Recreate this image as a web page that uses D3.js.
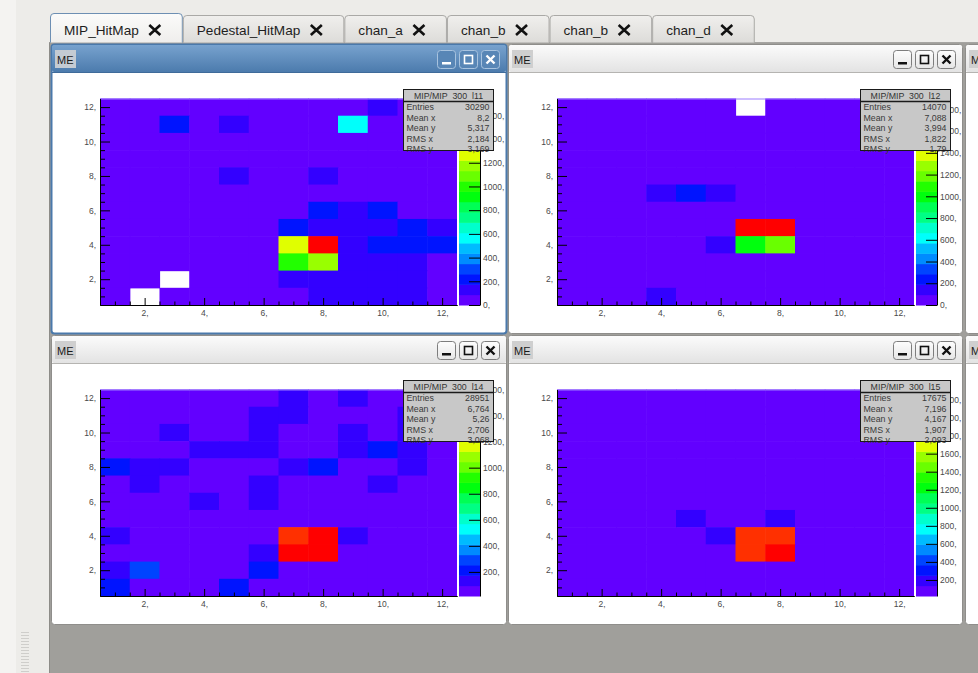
<!DOCTYPE html>
<html>
<head>
<meta charset="utf-8">
<script src="https://cdn.jsdelivr.net/npm/d3@7"></script>
<style>
  body { margin: 0; background: #edece9; overflow: hidden; }
  text { font-family: "Liberation Sans", Arial, sans-serif; }
  .pre { white-space: pre; }
</style>
</head>
<body>
<svg id="app" width="978" height="673"></svg>
<script>
var W = 978, H = 673;

// ROOT "pretty" palette, 20 contour bands
var palette = ["#6200ff", "#3300ff", "#0014ff", "#0044ff", "#008bff", "#00bbff", "#00fffb",
  "#00ffcc", "#00ff85", "#00ff55", "#00ff0e", "#22ff00", "#69ff00", "#99ff00", "#e0ff00",
  "#ffee00", "#ffa700", "#ff7700", "#ff3000", "#ff0000"];

var tabNames = ["MIP_HitMap", "Pedestal_HitMap", "chan_a", "chan_b", "chan_b", "chan_d"];
var histTitles = ["MIP/MIP  300  l11", "MIP/MIP  300  l12", "MIP/MIP  300  l14", "MIP/MIP  300  l15"];
var statNames = ["Entries", "Mean x", "Mean y", "RMS x", "RMS y"];
var statsL11 = ["30290", "8,2", "5,317", "2,184", "3,169"];
var statsL12 = ["14070", "7,088", "3,994", "1,822", "1,79"];
var statsL14 = ["28951", "6,764", "5,26", "2,706", "3,068"];
var statsL15 = ["17675", "7,196", "4,167", "1,907", "2,093"];
var zRanges = [[0, 1742], [0, 1900], [15, 1600], [22, 2311]];
var majorTicks = [2, 4, 6, 8, 10, 12];
var minorTicks = d3.range(1, 12.5, 0.5).filter(function(v) { return v % 2 !== 0; });

// hit maps: rows from y=12 (top) down to y=1, columns x=1..12, null = empty bin
var hitL11 = [
  [ 40,  36,  38,  42,  45,  40,  44,  48,  50, 130,  60,  55],
  [ 38,  40, 215,  45, 140,  42,  46,  50, 560,  52,  48,  45],
  [ 36,  40,  42,  44,  46,  45,  48,  50,  52,  50,  48,  44],
  [ 35,  38,  40,  44,  48,  46,  50,  55,  52,  50,  46,  42],
  [ 34,  36,  40,  42, 130,  48,  52, 135,  55,  52,  48,  44],
  [ 33,  36,  40,  44,  48,  50,  56,  60,  58,  55,  50,  46],
  [ 32,  35,  38,  42,  46,  52,  60, 220, 140, 215,  70,  60],
  [ 30,  34,  38,  42,  46,  55, 225, 150, 140, 135, 210, 150],
  [ 30,  33,  36,  40,  44,  60,1260,1742, 160, 230, 240, 235],
  [ 28,  32,  35,  38,  42,  60,1000,1180, 150, 140, 130,  80],
  [ 26,  30,null,  36,  40,  55, 140, 150, 145, 135, 130,  75],
  [ 25,null,  32,  35,  38,  50,  70, 145, 140, 135, 130,  70]
];
var hitL12 = [
  [ 40,  42,  44,  46,  48,  50,null,  50,  48,  46,  44,  42],
  [ 42,  44,  46,  48,  50,  52,  54,  52,  50,  48,  46,  44],
  [ 44,  46,  48,  50,  52,  54,  56,  54,  52,  50,  48,  46],
  [ 45,  48,  50,  52,  55,  58,  60,  58,  55,  52,  50,  48],
  [ 46,  50,  52,  55,  58,  62,  65,  62,  58,  55,  52,  50],
  [ 48,  52,  55, 140, 240, 140,  70,  66,  62,  58,  55,  52],
  [ 48,  52,  56,  60,  66,  75,  80,  75,  66,  60,  56,  52],
  [ 46,  50,  55,  60,  70,  85,1900,1880,  80,  62,  55,  50],
  [ 45,  48,  52,  58,  66, 140,1000,1200,  78,  60,  52,  48],
  [ 42,  46,  50,  55,  60,  70,  80,  75,  65,  56,  50,  46],
  [ 40,  44,  48,  52,  56,  60,  66,  62,  58,  52,  48,  44],
  [ 38,  42,  46, 150,  52,  56,  60,  58,  54,  50,  46,  42]
];
var hitL14 = [
  [ 40,  45,  50,  55,  60,  62, 135,  60, 135,  55,  50,  45],
  [ 42,  48,  52,  58,  62, 135, 135,  62,  60,  58, 135,  48],
  [ 45,  50, 135,  60,  65, 135,  70,  66, 135,  60, 135,  50],
  [ 48,  52,  58, 135, 135, 135,  72,  68, 135, 215, 135,  52],
  [215, 135, 135,  62,  68,  72,  135, 215,  70,  65, 135,  55],
  [ 50, 135,  60,  65,  70, 135,  78,  72,  68, 135,  60,  55],
  [ 48,  55,  60, 135,  70, 135,  80,  75,  70,  65,  58,  52],
  [ 46,  52,  58,  62,  68,  74,  85,  80,  72,  66,  56,  50],
  [135,  50,  56,  62,  70,  80,1480,1600, 135,  68,  55,  48],
  [ 42,  48,  54,  60,  68, 135,1560,1570,  80,  66,  52,  46],
  [135, 290,  52,  58,  65, 215,  85,  80,  72,  60,  50,  44],
  [215,  42,  48,  54, 215,  66,  70,  68,  62,  55,  46,  15]
];
var hitL15 = [
  [ 40,  42,  45,  48,  50,  52,  55,  52,  50,  48,  45,  42],
  [ 42,  45,  48,  50,  54,  56,  58,  56,  54,  50,  48,  45],
  [ 44,  48,  50,  54,  58,  60,  62,  60,  58,  54,  50,  48],
  [ 46,  50,  54,  58,  62,  66,  68,  66,  62,  58,  54,  50],
  [ 48,  52,  56,  62,  68,  72,  75,  72,  68,  62,  56,  52],
  [ 50,  55,  60,  66,  74,  80,  85,  80,  74,  66,  60,  55],
  [ 52,  58,  64,  72,  80,  90,  95,  90,  82,  72,  62,  56],
  [ 52,  58,  66,  75, 190,  95, 100, 190,  88,  76,  64,  56],
  [ 50,  56,  64,  74,  88, 190,2140,2150,  92,  76,  62,  54],
  [ 48,  54,  62,  72,  85,  98,2130,2311,  90,  72,  60,  52],
  [ 45,  50,  58,  66,  76,  85,  92,  88,  78,  66,  55,  48],
  [ 22,  46,  52,  60,  68,  75,  80,  76,  68,  60,  50,  44]
];

var svg = d3.select("#app");
var defs = svg.append("defs");
function gradient(id, c1, c2) {
  var lg = defs.append("linearGradient").attr("id", id).attr("x1", 0).attr("y1", 0).attr("x2", 0).attr("y2", 1);
  lg.append("stop").attr("offset", "0%").attr("stop-color", c1);
  lg.append("stop").attr("offset", "100%").attr("stop-color", c2);
}
gradient("actBar", "#77a2ce", "#4c7bad");
gradient("inBar", "#fbfbfb", "#e3e3e3");
gradient("tabIn", "#f0efed", "#dddcd9");
gradient("tabAct", "#fbfbfa", "#efeeec");
gradient("btnIn", "#fdfdfd", "#e6e6e6");

// background and MDI area
svg.append("rect").attr("width", W).attr("height", H).attr("fill", "#edece9");
svg.append("rect").attr("width", 16).attr("height", H).attr("fill", "#f4f3f1");
svg.append("rect").attr("x", 50).attr("y", 43).attr("width", W - 50).attr("height", H - 43).attr("fill", "#a09f9b");
svg.append("line").attr("x1", 49.5).attr("x2", 49.5).attr("y1", 42).attr("y2", H).attr("stroke", "#8d8c88");
svg.append("line").attr("x1", 49.5).attr("x2", W).attr("y1", 42.5).attr("y2", 42.5).attr("stroke", "#a6a5a2");
d3.range(632, 672, 3).forEach(function(y) {
  svg.append("line").attr("x1", 21).attr("x2", 29).attr("y1", y + 0.5).attr("y2", y + 0.5).attr("stroke", "#cfcecb");
});

// tabs
var tx = 50;
tabNames.forEach(function(name, i) {
  var active = i === 0;
  var g = svg.append("g");
  var bg = g.append("path");
  var t = g.append("text").attr("x", tx + 14).attr("y", 35)
    .attr("font-family", "DejaVu Sans").attr("font-size", 13.6).attr("fill", "#1e1e1e").text(name);
  var len = t.node().getComputedTextLength();
  var tw = len + 58;
  var top = active ? 13 : 15, r = 4;
  bg.attr("d", "M" + (tx + 0.5) + ",42.5 V" + (top + r) + " Q" + (tx + 0.5) + "," + (top + 0.5) + " " + (tx + r) + "," + (top + 0.5) +
      " H" + (tx + tw - r) + " Q" + (tx + tw - 0.5) + "," + (top + 0.5) + " " + (tx + tw - 0.5) + "," + (top + r) + " V42.5")
    .attr("fill", active ? "url(#tabAct)" : "url(#tabIn)")
    .attr("stroke", active ? "#6d8fb3" : "#aaa9a6");
  var cx = tx + 14 + len + 16, cy = 30;
  g.append("path").attr("d", "M" + (cx - 5.5) + "," + (cy - 5) + "L" + (cx + 5.5) + "," + (cy + 5) +
      "M" + (cx + 5.5) + "," + (cy - 5) + "L" + (cx - 5.5) + "," + (cy + 5))
    .attr("stroke", "#111").attr("stroke-width", 2.6);
  tx += tw;
});

function drawWindow(wx, wy, ww, wh, active) {
  var g = svg.append("g");
  g.append("rect").attr("x", wx + 0.5).attr("y", wy + 0.5).attr("width", ww - 1).attr("height", wh - 1).attr("rx", 3)
    .attr("fill", "#ffffff").attr("stroke", active ? "#4a79ab" : "#8f8e8b").attr("stroke-width", active ? 2 : 1);
  g.append("rect").attr("x", wx + 1).attr("y", wy + 1).attr("width", ww - 2).attr("height", 27).attr("rx", 2)
    .attr("fill", active ? "url(#actBar)" : "url(#inBar)");
  g.append("line").attr("x1", wx + 1).attr("x2", wx + ww - 1).attr("y1", wy + 28.5).attr("y2", wy + 28.5)
    .attr("stroke", active ? "#3f6b9a" : "#b5b4b1");
  g.append("rect").attr("x", wx + 4).attr("y", wy + 6).attr("width", 21).attr("height", 18)
    .attr("fill", active ? "#c4cbd3" : "#cfcfcf");
  g.append("text").attr("x", wx + 6).attr("y", wy + 19.5).attr("font-family", "DejaVu Sans").attr("font-size", 11)
    .attr("fill", "#1a1a1a").text("ME");
  [-70, -48, -26].forEach(function(off, k) {
    var bx = wx + ww + off, by = wy + 6;
    g.append("rect").attr("x", bx + 0.5).attr("y", by + 0.5).attr("width", 18).attr("height", 18).attr("rx", 3)
      .attr("fill", active ? "#5886b6" : "url(#btnIn)").attr("stroke", active ? "#a8c3df" : "#7d7d7d");
    var ic = active ? "#ffffff" : "#111111";
    if (k === 0) g.append("rect").attr("x", bx + 5).attr("y", by + 12).attr("width", 9).attr("height", 2.5).attr("fill", ic);
    if (k === 1) g.append("rect").attr("x", bx + 5.5).attr("y", by + 5.5).attr("width", 8).attr("height", 8)
      .attr("fill", "none").attr("stroke", ic).attr("stroke-width", 1.6);
    if (k === 2) g.append("path").attr("d", "M" + (bx + 5.5) + "," + (by + 5.5) + "L" + (bx + 13.5) + "," + (by + 13.5) +
        "M" + (bx + 13.5) + "," + (by + 5.5) + "L" + (bx + 5.5) + "," + (by + 13.5))
      .attr("stroke", ic).attr("stroke-width", 2.4);
  });
  return g;
}

function styleAxis(sel) {
  sel.attr("font-family", "Liberation Sans, Arial, sans-serif").attr("font-size", 8.5).attr("color", "#000");
  sel.selectAll("text").attr("fill", "#4a4a4a");
}

function drawPanel(wx, wy, matrix, zRange, title, stats) {
  var left = wx + 49, right = wx + 406, top = wy + 54.5, bottom = wy + 261;
  var xs = d3.scaleLinear().domain([0.5, 12.5]).range([left, right]);
  var ys = d3.scaleLinear().domain([0.5, 12.5]).range([bottom, top]);
  var color = d3.scaleQuantize().domain(zRange).range(palette);
  var g = svg.append("g");

  var cells = [];
  matrix.forEach(function(row, r) {
    row.forEach(function(v, c) { if (v !== null) cells.push({ x: c + 1, y: 12 - r, v: v }); });
  });
  var cw = xs(1.5) - xs(0.5), ch = ys(0.5) - ys(1.5);
  g.selectAll("rect.cell").data(cells).enter().append("rect").attr("class", "cell")
    .attr("x", function(d) { return xs(d.x - 0.5); })
    .attr("y", function(d) { return ys(d.y + 0.5); })
    .attr("width", function(d) { return d.x < 12 ? cw + 0.6 : cw; })
    .attr("height", function(d) { return d.y > 1 ? ch + 0.6 : ch; })
    .attr("fill", function(d) { return color(d.v); });
  // thin frame line along the top of the pad frame
  g.append("line").attr("x1", left).attr("x2", right).attr("y1", top + 0.5).attr("y2", top + 0.5)
    .attr("stroke", "#9b7dff").attr("stroke-width", 1);

  // axes with inward ticks, ROOT style
  var xAxis = d3.axisBottom(xs).tickValues(majorTicks).tickSizeInner(-7).tickSizeOuter(0).tickPadding(5)
    .tickFormat(function(d) { return d + ","; });
  var xMinor = d3.axisBottom(xs).tickValues(minorTicks).tickSizeInner(-3.5).tickSizeOuter(0).tickFormat("");
  var yAxis = d3.axisLeft(ys).tickValues(majorTicks).tickSizeInner(-10).tickSizeOuter(0).tickPadding(4)
    .tickFormat(function(d) { return d + ","; });
  var yMinor = d3.axisLeft(ys).tickValues(minorTicks).tickSizeInner(-5).tickSizeOuter(0).tickFormat("");
  g.append("g").attr("transform", "translate(0," + bottom + ")").call(xMinor).call(styleAxis);
  g.append("g").attr("transform", "translate(0," + bottom + ")").call(xAxis).call(styleAxis);
  g.append("g").attr("transform", "translate(" + left + ",0)").call(yMinor).call(styleAxis);
  g.append("g").attr("transform", "translate(" + left + ",0)").call(yAxis).call(styleAxis);

  // colour bar
  var zs = d3.scaleLinear().domain(zRange).range([bottom, top]);
  var step = (zRange[1] - zRange[0]) / palette.length;
  g.selectAll("rect.band").data(palette).enter().append("rect").attr("class", "band")
    .attr("x", wx + 408).attr("width", 21)
    .attr("y", function(d, i) { return zs(zRange[0] + (i + 1) * step); })
    .attr("height", zs(zRange[0]) - zs(zRange[0] + step) + 0.5)
    .attr("fill", function(d) { return d; });
  var zAxis = d3.axisRight(zs).ticks(10).tickSizeInner(-11).tickSizeOuter(0).tickPadding(3)
    .tickFormat(function(d) { return d + ","; });
  g.append("g").attr("transform", "translate(" + (wx + 429) + ",0)").call(zAxis).call(styleAxis);

  // stats box
  var sx = wx + 352.5, sy = wy + 45.5;
  var sb = g.append("g");
  sb.append("rect").attr("x", sx).attr("y", sy).attr("width", 90).attr("height", 61).attr("fill", "#c8c8c8");
  sb.append("text").attr("class", "pre").attr("x", sx + 45).attr("y", sy + 9.5).attr("text-anchor", "middle")
    .attr("font-size", 8.8).attr("fill", "#333").text(title);
  statNames.forEach(function(n, i) {
    sb.append("text").attr("x", sx + 3).attr("y", sy + 20.5 + i * 10.5).attr("font-size", 8.8).attr("fill", "#3a3a3a").text(n);
    sb.append("text").attr("x", sx + 86).attr("y", sy + 20.5 + i * 10.5).attr("text-anchor", "end")
      .attr("font-size", 8.8).attr("fill", "#3a3a3a").text(stats[i]);
  });
  sb.append("rect").attr("x", sx).attr("y", sy).attr("width", 90).attr("height", 61)
    .attr("fill", "none").attr("stroke", "#1a1a1a");
  sb.append("line").attr("x1", sx).attr("x2", sx + 90).attr("y1", sy + 12).attr("y2", sy + 12)
    .attr("stroke", "#1a1a1a").attr("stroke-width", 1.5);
}

// windows: the two columns, two rows, plus a cut-off third column
var winX = [51, 508], winY = [44, 335];
drawWindow(965, winY[0], 100, 290, false);
drawWindow(965, winY[1], 100, 290, false);
drawWindow(winX[1], winY[0], 455, 290, false);
drawWindow(winX[0], winY[1], 456, 290, false);
drawWindow(winX[1], winY[1], 455, 290, false);
drawWindow(winX[0], winY[0], 456, 290, true);

drawPanel(winX[0], winY[0], hitL11, zRanges[0], histTitles[0], statsL11);
drawPanel(winX[1], winY[0], hitL12, zRanges[1], histTitles[1], statsL12);
drawPanel(winX[0], winY[1], hitL14, zRanges[2], histTitles[2], statsL14);
drawPanel(winX[1], winY[1], hitL15, zRanges[3], histTitles[3], statsL15);
</script>
</body>
</html>
